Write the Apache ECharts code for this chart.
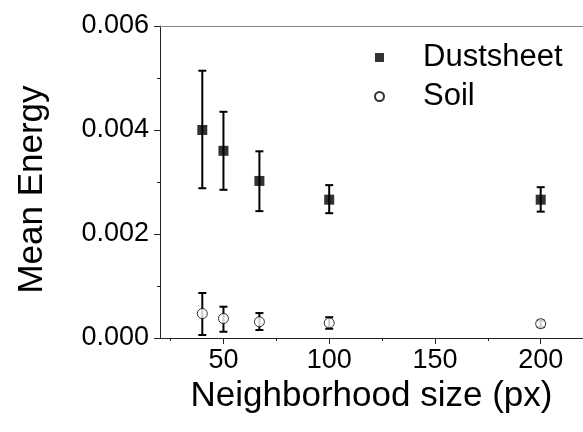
<!DOCTYPE html>
<html>
<head>
<meta charset="utf-8">
<script src="https://cdn.jsdelivr.net/npm/echarts@6/dist/echarts.min.js"></script>
<style>
  html, body { margin: 0; padding: 0; background: #fff; }
  #chart { width: 583px; height: 432px; }
</style>
</head>
<body>
<div id="chart"></div>
<script>
// neighborhood sizes (px)
const sizes = [40, 50, 67, 100, 200]
// Dustsheet mean energy with error bar ends
const dustMean = [0.00400, 0.00360, 0.00302, 0.00266, 0.00266]
const dustLow = [0.00288, 0.00285, 0.00244, 0.00240, 0.00243]
const dustHigh = [0.00514, 0.00435, 0.00359, 0.00294, 0.00290]
// Soil mean energy with error bar ends
const soilMean = [0.000470, 0.000375, 0.000312, 0.000290, 0.000275]
const soilLow = [0.000058, 0.000120, 0.000154, 0.000178, 0.000210]
const soilHigh = [0.000865, 0.000602, 0.000480, 0.000400, 0.000336]
const xMajor = [50, 100, 150, 200]
const xMinor = [25, 75, 125, 175]

const font = 'Liberation Sans, Arial, sans-serif'
const chart = echarts.init(document.getElementById('chart'), null, { renderer: 'canvas' })

const zip = (a, b) => sizes.map((x, i) => [x, a[i], b ? b[i] : undefined])

function errorBars (params, api) {
  const x = api.value(0)
  const lo = api.coord([x, api.value(1)])
  const hi = api.coord([x, api.value(2)])
  const cap = 4
  const style = { stroke: '#000', lineWidth: 2 }
  return {
    type: 'group',
    children: [
      { type: 'line', shape: { x1: lo[0], y1: lo[1], x2: hi[0], y2: hi[1] }, style },
      { type: 'line', shape: { x1: lo[0] - cap, y1: lo[1], x2: lo[0] + cap, y2: lo[1] }, style },
      { type: 'line', shape: { x1: hi[0] - cap, y1: hi[1], x2: hi[0] + cap, y2: hi[1] }, style }
    ]
  }
}

const option = {
  animation: false,
  backgroundColor: '#fff',
  textStyle: { fontFamily: font, color: '#000' },
  grid: { left: 160, top: 26, right: 0, bottom: 94, containLabel: false, outerBoundsMode: 'none' },
  legend: {
    orient: 'vertical',
    left: 369,
    top: 37,
    itemWidth: 9,
    itemHeight: 9,
    itemGap: 8,
    textStyle: { fontFamily: font, fontSize: 31, lineHeight: 31, color: '#000', padding: [0, 0, 0, 34] },
    data: ['Dustsheet', 'Soil']
  },
  xAxis: [
    {
      type: 'value',
      min: 20,
      max: 220,
      position: 'bottom',
      splitLine: { show: false },
      axisLine: { lineStyle: { color: '#222', width: 1 } },
      axisTick: { customValues: xMajor, length: 6, lineStyle: { color: '#222' } },
      axisLabel: { customValues: xMajor, fontSize: 27, color: '#000', fontFamily: font, margin: 9 },
      name: 'Neighborhood size (px)',
      nameLocation: 'middle',
      nameGap: 38,
      nameTextStyle: { fontSize: 35, color: '#000', fontFamily: font }
    },
    {
      type: 'value',
      min: 20,
      max: 220,
      position: 'top',
      splitLine: { show: false },
      axisLine: { lineStyle: { color: '#888', width: 1 } },
      axisTick: { show: false },
      axisLabel: { show: false }
    },
    {
      type: 'value',
      min: 20,
      max: 220,
      position: 'bottom',
      splitLine: { show: false },
      axisLine: { show: false },
      axisTick: { customValues: xMinor, length: 3, lineStyle: { color: '#222' } },
      axisLabel: { show: false }
    }
  ],
  yAxis: {
    type: 'value',
    min: 0,
    max: 0.006,
    interval: 0.002,
    splitLine: { show: false },
    axisLine: { show: true, lineStyle: { color: '#222', width: 1 } },
    axisTick: { show: true, length: 6, lineStyle: { color: '#222' } },
    minorTick: { show: true, splitNumber: 2, length: 3, lineStyle: { color: '#222' } },
    minorSplitLine: { show: false },
    axisLabel: { fontSize: 27, color: '#000', fontFamily: font, margin: 11, formatter: v => v.toFixed(3) },
    name: 'Mean Energy',
    nameLocation: 'middle',
    nameGap: 110,
    nameRotate: 90,
    nameTextStyle: { fontSize: 35, color: '#000', fontFamily: font, padding: [0, 15, 0, 0] }
  },
  series: [
    {
      type: 'custom',
      name: 'dustErr',
      renderItem: errorBars,
      data: zip(dustLow, dustHigh),
      z: 1,
      silent: true
    },
    {
      type: 'custom',
      name: 'soilErr',
      renderItem: errorBars,
      data: zip(soilLow, soilHigh),
      z: 1,
      silent: true
    },
    {
      type: 'scatter',
      name: 'Dustsheet',
      symbol: 'rect',
      symbolSize: 10,
      itemStyle: { color: '#000' },
      data: zip(dustMean),
      z: 3
    },
    {
      type: 'scatter',
      name: 'Soil',
      symbol: 'circle',
      symbolSize: 10,
      itemStyle: { color: '#fff', borderColor: '#000', borderWidth: 1 },
      data: zip(soilMean),
      z: 3
    }
  ]
}

chart.setOption(option)
</script>
</body>
</html>
